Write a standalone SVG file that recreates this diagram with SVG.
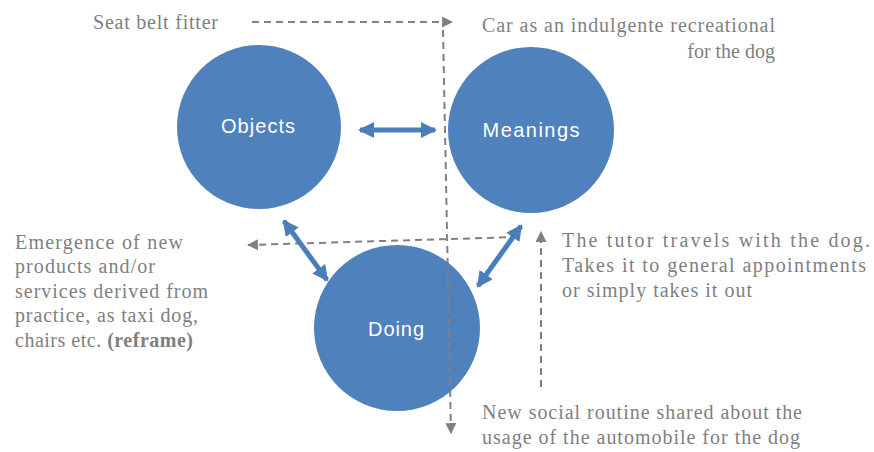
<svg xmlns="http://www.w3.org/2000/svg" width="874" height="452" viewBox="0 0 874 452">
  <style>
    .node { fill: #4f81bd; }
    .label { font-family: "Liberation Sans", Arial, sans-serif; font-size: 20px; fill: #ffffff; text-anchor: middle; }
    .note { font-family: "Liberation Serif", "Times New Roman", serif; font-size: 20px; fill: #7f7f7f; }
    .link { stroke: #4a7ebb; stroke-width: 5; fill: none; marker-start: url(#blueHead); marker-end: url(#blueHead); }
    .dash { stroke: #808080; stroke-width: 2; stroke-dasharray: 7 5; fill: none; marker-end: url(#greyHead); }
  </style>
  <defs>
    <marker id="blueHead" viewBox="0 0 16 16" refX="14" refY="8" markerWidth="16" markerHeight="16" markerUnits="userSpaceOnUse" orient="auto-start-reverse">
      <path d="M0,0 L16,8 L0,16 Z" fill="#4a7ebb"/>
    </marker>
    <marker id="greyHead" viewBox="0 0 10 10" refX="9" refY="5" markerWidth="11" markerHeight="11" markerUnits="userSpaceOnUse" orient="auto">
      <path d="M0,0 L10,5 L0,10 Z" fill="#808080"/>
    </marker>
  </defs>

  <g id="objects">
    <circle class="node" cx="259" cy="127" r="82"/>
    <text class="label" x="258" y="133" textLength="74">Objects</text>
  </g>
  <g id="meanings">
    <circle class="node" cx="531" cy="130" r="83"/>
    <text class="label" x="531" y="137" textLength="97">Meanings</text>
  </g>
  <g id="doing">
    <circle class="node" cx="397" cy="328" r="83"/>
    <text class="label" x="396" y="336" textLength="56">Doing</text>
  </g>

  <g id="connectors">
    <!-- dashed guide lines, drawn over the circles -->
    <path class="dash" d="M252,22 L452,22"/>
    <path class="dash" d="M443,30 L451,433"/>
    <path class="dash" d="M518,237 L248,245"/>
    <path class="dash" d="M541,387 L541,232"/>

    <!-- relations between the three elements -->
    <path class="link" d="M360,130 L435,130"/>
    <path class="link" d="M284,221 L327,280"/>
    <path class="link" d="M521,226 L478,286"/>
  </g>

  <g id="note-seatbelt">
    <text class="note" x="93" y="29" textLength="125">Seat belt fitter</text>
  </g>
  <g id="note-recreational">
    <text class="note" x="482" y="32" textLength="293">Car as an indulgente recreational</text>
    <text class="note" x="775" y="58" text-anchor="end">for the dog</text>
  </g>
  <g id="note-emergence">
    <text class="note" x="15" y="249" textLength="168">Emergence of new</text>
    <text class="note" x="15" y="273" textLength="140">products and/or</text>
    <text class="note" x="15" y="298" textLength="193">services derived from</text>
    <text class="note" x="15" y="322" textLength="183">practice, as taxi dog,</text>
    <text class="note" x="15" y="347" textLength="178">chairs etc. <tspan font-weight="bold">(reframe)</tspan></text>
  </g>
  <g id="note-tutor">
    <text class="note" x="562" y="247" textLength="308">The tutor travels with the dog.</text>
    <text class="note" x="562" y="272" textLength="304">Takes it to general appointments</text>
    <text class="note" x="562" y="297" textLength="190">or simply takes it out</text>
  </g>
  <g id="note-routine">
    <text class="note" x="482" y="419" textLength="320">New social routine shared about the</text>
    <text class="note" x="482" y="444" textLength="318">usage of the automobile for the dog</text>
  </g>
</svg>
